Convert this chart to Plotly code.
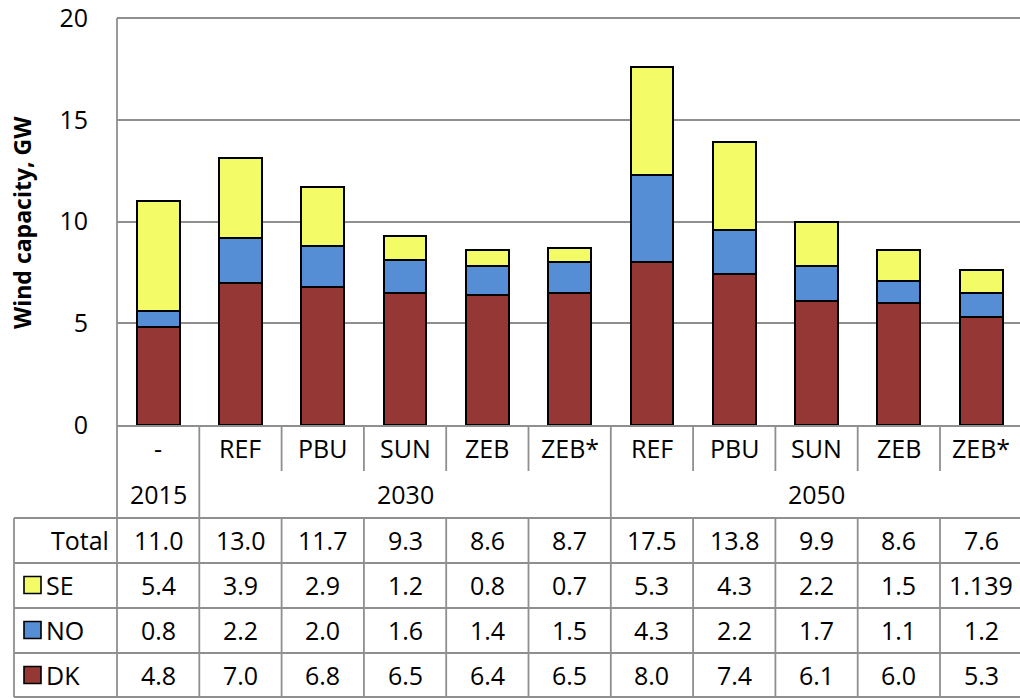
import plotly.graph_objects as go

# Scenario columns and their year groups
scenarios = ["-", "REF", "PBU", "SUN", "ZEB", "ZEB*", "REF", "PBU", "SUN", "ZEB", "ZEB*"]
year_groups = [("2015", 0, 0), ("2030", 1, 5), ("2050", 6, 10)]

# Wind capacity by country, GW
dk = [4.8, 7.0, 6.8, 6.5, 6.4, 6.5, 8.0, 7.4, 6.1, 6.0, 5.3]
no = [0.8, 2.2, 2.0, 1.6, 1.4, 1.5, 4.3, 2.2, 1.7, 1.1, 1.2]
se = [5.4, 3.9, 2.9, 1.2, 0.8, 0.7, 5.3, 4.3, 2.2, 1.5, 1.139]
total = [11.0, 13.0, 11.7, 9.3, 8.6, 8.7, 17.5, 13.8, 9.9, 8.6, 7.6]
y_ticks = [0, 5, 10, 15, 20]

colors = {"SE": "#F3FC66", "NO": "#558ED5", "DK": "#953735"}
FONT = "Open Sans"
FS = 25
GRID = "#8f8f8f"

W, H = 1020, 698
L, T, B = 117, 18, 273
plot_w = W - L
plot_h = H - T - B
col_w = 82.3
x_max = -0.5 + plot_w / col_w

x = list(range(len(scenarios)))
fig = go.Figure()
for name, vals in [("DK", dk), ("NO", no), ("SE", se)]:
    fig.add_trace(go.Bar(
        x=x, y=vals, name=name, width=0.52,
        marker=dict(color=colors[name], line=dict(color="black", width=2)),
        showlegend=False,
    ))


def py(pix):
    """pixel row -> paper y"""
    return (T + plot_h - pix) / plot_h


def px(pix):
    """pixel column -> paper x"""
    return (pix - L) / plot_w


def fmt(v):
    return f"{v:.1f}" if abs(round(v, 1) - v) < 1e-9 else f"{v:g}"


shapes = []
line = dict(color=GRID, width=1.8)

# plot frame top and left edge (down through the table)
shapes.append(dict(type="line", xref="paper", yref="paper", x0=0, x1=1, y0=1, y1=1, line=line))
shapes.append(dict(type="line", xref="paper", yref="paper", x0=0, x1=0, y0=1, y1=py(697), line=line))

# table horizontal rules
rows_y = [518, 563, 608, 653, 697]
for r in rows_y:
    shapes.append(dict(type="line", xref="paper", yref="paper", x0=px(14), x1=1, y0=py(r), y1=py(r), line=line))
shapes.append(dict(type="line", xref="paper", yref="paper", x0=px(14), x1=px(14), y0=py(518), y1=py(697), line=line))

# column separators
group_starts = {g[1] for g in year_groups}
for k in range(1, len(scenarios)):
    xb = k - 0.5
    if k in group_starts:
        shapes.append(dict(type="line", xref="x", yref="paper", x0=xb, x1=xb, y0=0, y1=py(697), line=line))
    else:
        shapes.append(dict(type="line", xref="x", yref="paper", x0=xb, x1=xb, y0=0, y1=py(471), line=line))
        shapes.append(dict(type="line", xref="x", yref="paper", x0=xb, x1=xb, y0=py(518), y1=py(697), line=line))

annotations = []
txt = dict(family=FONT, size=FS, color="black")


def cell(xv, yv, text, xref="x", xanchor="center"):
    annotations.append(dict(x=xv, y=py(yv), xref=xref, yref="paper", text=text, showarrow=False,
                            font=txt, xanchor=xanchor, yanchor="middle"))


for i, s in enumerate(scenarios):
    cell(i, 448, s)
for label, a, b in year_groups:
    cell((a + b) / 2, 494, label)

row_centers = {"Total": 540, "SE": 585, "NO": 630, "DK": 675}
for i in x:
    cell(i, row_centers["Total"], fmt(total[i]))
    cell(i, row_centers["SE"], fmt(se[i]))
    cell(i, row_centers["NO"], fmt(no[i]))
    cell(i, row_centers["DK"], fmt(dk[i]))

# row headers with legend keys
cell(px(111), row_centers["Total"], "Total", xref="paper", xanchor="right")
for name in ["SE", "NO", "DK"]:
    yc = row_centers[name]
    shapes.append(dict(type="rect", xref="paper", yref="paper", x0=px(24), x1=px(41),
                       y0=py(yc - 8.5), y1=py(yc + 8.5), fillcolor=colors[name],
                       line=dict(color="black", width=1.6)))
    cell(px(44), yc, name, xref="paper", xanchor="left")

# y-axis title
annotations.append(dict(x=px(22), y=py(223), xref="paper", yref="paper", text="<b>Wind capacity, GW</b>",
                        textangle=-90, showarrow=False, font=dict(family=FONT, size=23, color="black"),
                        xanchor="center", yanchor="middle"))

fig.update_layout(
    barmode="stack",
    width=W, height=H,
    margin=dict(l=L, r=0, t=T, b=B, pad=0),
    paper_bgcolor="white", plot_bgcolor="white",
    font=txt,
    shapes=shapes,
    annotations=annotations,
    xaxis=dict(range=[-0.5, x_max], showticklabels=False, showgrid=False, zeroline=False,
               showline=True, linecolor=GRID, linewidth=1.8, fixedrange=True),
    yaxis=dict(range=[0, 20], tickvals=y_ticks, showgrid=True, gridcolor=GRID, gridwidth=1.8,
               zeroline=False, showline=False, ticks="", ticklabelstandoff=28,
               ticklabeloverflow="allow",
               tickfont=dict(family=FONT, size=FS, color="black"), fixedrange=True),
)

fig.write_html("out.html")
